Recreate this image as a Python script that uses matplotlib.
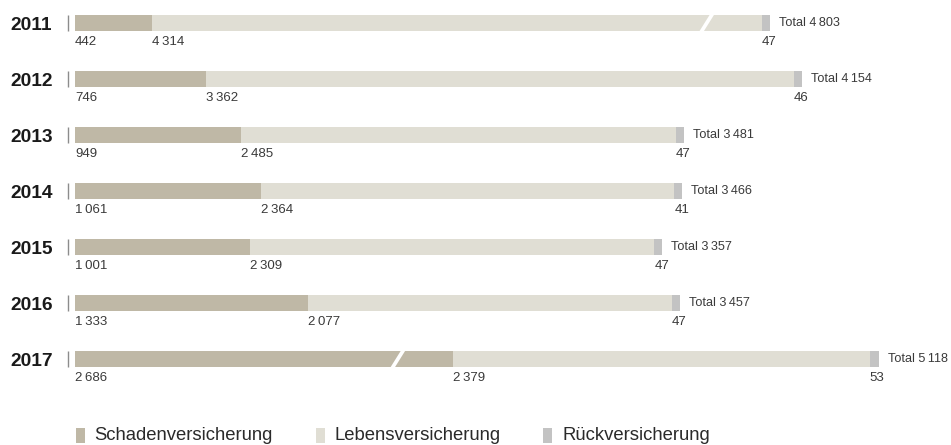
import matplotlib.pyplot as plt
from matplotlib.patches import Polygon, Rectangle
from matplotlib.transforms import blended_transform_factory

plt.rcParams['font.family'] = ['Liberation Sans', 'DejaVu Sans']

years = ['2011', '2012', '2013', '2014', '2015', '2016', '2017']
schaden = [442, 746, 949, 1061, 1001, 1333, 2686]
leben = [4314, 3362, 2485, 2364, 2309, 2077, 2379]
rueck = [47, 46, 47, 41, 47, 47, 53]
totals = [4803, 4154, 3481, 3466, 3357, 3457, 5118]

labels = ['Schadenversicherung', 'Lebensversicherung', 'Rückversicherung']
colors = ['#bfb8a6', '#e0ded4', '#c3c3c3']

# broken bars: year -> (segment, units cut out, slash position on the axis)
breaks = {'2011': (1, 832, 3610), '2017': (0, 524, 1845)}

W, H = 951, 445
PX = 0.175          # pixels per unit
ROW0, ROW = 23, 56  # first bar centre and row pitch, px
BAR_H = 16 / ROW

txt_col = '#3a3a3a'


def fmt(v):
    return f'{v:,}'.replace(',', '\u2009')


fig = plt.figure(figsize=(W / 100, H / 100), dpi=100)
ax = fig.add_axes([75 / W, 0, (W - 75) / W, 1])
ax.set_xlim(0, (W - 75) / PX)
ax.set_ylim((H - ROW0) / ROW, -ROW0 / ROW)
ax.axis('off')

fig_x = blended_transform_factory(fig.transFigure, ax.transData)

for i, yr in enumerate(years):
    segs = [schaden[i], leben[i], rueck[i]]
    shown = list(segs)
    if yr in breaks:
        k, cut, _ = breaks[yr]
        shown[k] -= cut
    left = 0
    for j, (v, w) in enumerate(zip(segs, shown)):
        ax.barh(i, w, left=left, height=BAR_H, color=colors[j], linewidth=0)
        ax.annotate(fmt(v), (left, i), xytext=(0, -19 * 0.72),
                    textcoords='offset points', ha='left', va='center',
                    fontsize=9.5, color=txt_col)
        left += w
    ax.annotate('Total ' + fmt(totals[i]), (left, i), xytext=(9 * 0.72, 0),
                textcoords='offset points', ha='left', va='center',
                fontsize=9.1, color=txt_col)

    # white slash where the bar is cut
    if yr in breaks:
        xb = breaks[yr][2]
        dx, hw = 5.5 / PX, 2.2 / PX
        yb, yt = i + BAR_H * 0.55, i - BAR_H * 0.55
        ax.add_patch(Polygon([(xb - dx - hw, yb), (xb - dx + hw, yb),
                              (xb + dx + hw, yt), (xb + dx - hw, yt)],
                             closed=True, facecolor='white', edgecolor='none',
                             zorder=3))

    fig.text(10 / W, i, yr, transform=fig_x, fontsize=13.8, fontweight='bold',
             color='#1a1a1a', ha='left', va='center_baseline')
    ax.vlines(68 / W, i - BAR_H / 2, i + BAR_H / 2, transform=fig_x,
              color='#8c8c8c', linewidth=1, clip_on=False)

# legend along the bottom edge
for x_sq, x_txt, lab, col in zip([76, 316, 543], [94, 335, 562], labels, colors):
    fig.patches.append(Rectangle((x_sq / W, 2 / H), 9 / W, 15 / H, transform=fig.transFigure,
                                 facecolor=col, edgecolor='none'))
    fig.text(x_txt / W, 5 / H, lab, fontsize=13.3, color='#2a2a2a',
             ha='left', va='baseline')

fig.savefig('out.png', dpi=100)
